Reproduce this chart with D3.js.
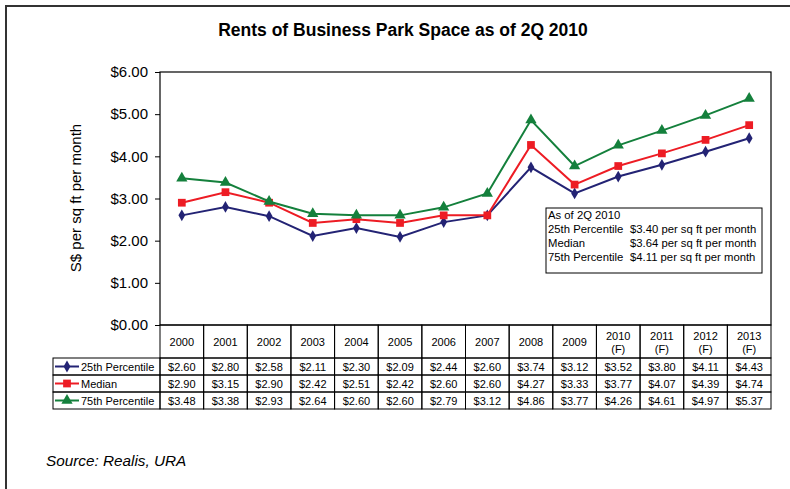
<!DOCTYPE html>
<html><head><meta charset="utf-8">
<script src="https://cdn.jsdelivr.net/npm/d3@7"></script>
<style>
body{margin:0;background:#fff;}
svg{display:block;font-family:Arial,"Liberation Sans",sans-serif;}
</style></head>
<body><svg id="c" width="790" height="489"></svg>
<script>
const years = ["2000","2001","2002","2003","2004","2005","2006","2007","2008","2009","2010 (F)","2011 (F)","2012 (F)","2013 (F)"];
const p25 = [2.60,2.80,2.58,2.11,2.30,2.09,2.44,2.60,3.74,3.12,3.52,3.80,4.11,4.43];
const median = [2.90,3.15,2.90,2.42,2.51,2.42,2.60,2.60,4.27,3.33,3.77,4.07,4.39,4.74];
const p75 = [3.48,3.38,2.93,2.64,2.60,2.60,2.79,3.12,4.86,3.77,4.26,4.61,4.97,5.37];
const yTicks = [0,1,2,3,4,5,6];
const seriesNames = ["25th Percentile","Median","75th Percentile"];
const noteLines = [["As of 2Q 2010",""],["25th Percentile","$3.40 per sq ft per month"],["Median","$3.64 per sq ft per month"],["75th Percentile","$4.11 per sq ft per month"]];

const series = [
  {name:seriesNames[0], values:p25, color:"#232374", sym:d3.symbolDiamond, size:40},
  {name:seriesNames[1], values:median, color:"#ED1C24", sym:d3.symbolSquare, size:60},
  {name:seriesNames[2], values:p75, color:"#14803C", sym:d3.symbolTriangle, size:55}
];

const svg = d3.select("#c");
svg.append("rect").attr("x",6).attr("y",6).attr("width",800).attr("height",500)
  .attr("fill","none").attr("stroke","#333").attr("stroke-width",2);

svg.append("text").attr("x",403).attr("y",36).attr("text-anchor","middle")
  .attr("font-size",17.5).attr("font-weight","bold").text("Rents of Business Park Space as of 2Q 2010");

const L=160,R=771,T=72,B=325;
const x = d3.scaleBand().domain(years).range([L,R]);
const y = d3.scaleLinear().domain([0,6]).range([B,T]);

const yAxis = svg.append("g").attr("transform",`translate(${L},0)`)
  .call(d3.axisLeft(y).tickValues(yTicks).tickFormat(d=>"$"+d3.format(".2f")(d)).tickSize(5).tickPadding(7));
yAxis.select(".domain").remove();
yAxis.selectAll("line").attr("stroke","#000");
yAxis.selectAll("text").attr("font-size",15).attr("fill","#000").attr("font-family","Arial,'Liberation Sans',sans-serif");

svg.append("rect").attr("x",L).attr("y",T).attr("width",R-L).attr("height",B-T)
  .attr("fill","none").attr("stroke","#000").attr("stroke-width",1.2);

svg.append("text").attr("transform",`translate(81,198) rotate(-90)`)
  .attr("text-anchor","middle").attr("font-size",15).text("S$ per sq ft per month");

const cx = d=>x(d)+x.bandwidth()/2;
const line = d3.line().x((d,i)=>cx(years[i])).y(d=>y(d));
series.forEach(s=>{
  svg.append("path").datum(s.values).attr("d",line).attr("fill","none")
    .attr("stroke",s.color).attr("stroke-width",2);
  svg.append("g").selectAll("path").data(s.values).join("path")
    .attr("transform",(d,i)=>`translate(${cx(years[i])},${y(d)})`)
    .attr("d",d3.symbol().type(s.sym).size(s.size)).attr("fill",s.color);
});

const nb = svg.append("g");
nb.append("rect").attr("x",546).attr("y",208).attr("width",216).attr("height",65)
  .attr("fill","#fff").attr("stroke","#000").attr("stroke-width",1);
noteLines.forEach((l,i)=>{
  nb.append("text").attr("x",548).attr("y",219+i*14).attr("font-size",11.3).text(l[0]);
  nb.append("text").attr("x",630).attr("y",219+i*14).attr("font-size",11.3).text(l[1]);
});

const hB = 358, rh = 17;
const tg = svg.append("g");
const stroke = "#000";
years.forEach(yr=>{
  const x0 = x(yr);
  tg.append("rect").attr("x",x0).attr("y",B).attr("width",x.bandwidth()).attr("height",hB-B)
    .attr("fill","none").attr("stroke",stroke).attr("stroke-width",1);
  const parts = yr.split(" ");
  if(parts.length===1){
    tg.append("text").attr("x",cx(yr)).attr("y",(B+hB)/2+4).attr("text-anchor","middle").attr("font-size",11).text(parts[0]);
  } else {
    tg.append("text").attr("x",cx(yr)).attr("y",(B+hB)/2-2).attr("text-anchor","middle").attr("font-size",11).text(parts[0]);
    tg.append("text").attr("x",cx(yr)).attr("y",(B+hB)/2+11).attr("text-anchor","middle").attr("font-size",11).text(parts[1]);
  }
});
series.forEach((s,r)=>{
  const y0 = hB + r*rh;
  tg.append("rect").attr("x",53).attr("y",y0).attr("width",L-53).attr("height",rh)
    .attr("fill","none").attr("stroke",stroke).attr("stroke-width",1);
  tg.append("line").attr("x1",55).attr("x2",79).attr("y1",y0+rh/2).attr("y2",y0+rh/2)
    .attr("stroke",s.color).attr("stroke-width",2);
  tg.append("path").attr("transform",`translate(67,${y0+rh/2})`)
    .attr("d",d3.symbol().type(s.sym).size(s.size)).attr("fill",s.color);
  tg.append("text").attr("x",81).attr("y",y0+rh/2+4).attr("font-size",11).text(s.name);
  s.values.forEach((v,i)=>{
    tg.append("rect").attr("x",x(years[i])).attr("y",y0).attr("width",x.bandwidth()).attr("height",rh)
      .attr("fill","none").attr("stroke",stroke).attr("stroke-width",1);
    tg.append("text").attr("x",cx(years[i])).attr("y",y0+rh/2+4).attr("text-anchor","middle")
      .attr("font-size",11).text("$"+d3.format(".2f")(v));
  });
});

svg.append("text").attr("x",46).attr("y",466).attr("font-size",15.3).attr("font-style","italic")
  .text("Source: Realis, URA");
</script></body></html>
